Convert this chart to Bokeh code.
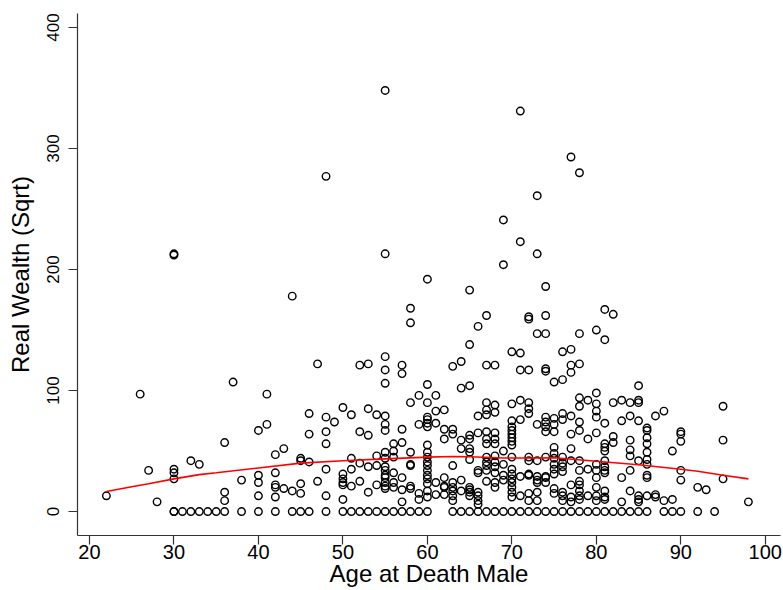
from bokeh.plotting import figure
from bokeh.models import ColumnDataSource, FixedTicker, Range1d
from bokeh.embed import file_html
from bokeh.resources import INLINE

# ---- data: values grouped by age at death ----
ages = [22, 26, 27, 28, 30, 31, 32, 33, 34, 35, 36, 37, 38, 40, 41, 42, 43, 44, 45, 46, 47, 48, 49,
        50, 51, 52, 53, 54, 55, 56, 57, 58, 59, 60, 61, 62, 63, 64, 65, 66, 67, 68, 69,
        70, 71, 72, 73, 74, 75, 76, 77, 78, 79, 80, 81, 82, 83, 84, 85, 86, 87, 88, 89,
        90, 92, 93, 94, 95, 98]

wealth_by_age = [
    [13],
    [97],
    [34],
    [8],
    [212, 213, 35, 32, 27, 0, 0],
    [0],
    [42, 0],
    [39, 0],
    [0],
    [0],
    [57, 16, 9, 0],
    [107],
    [26, 0],
    [67, 30, 24, 13, 0],
    [97, 72],
    [47, 32, 22, 20, 12, 0],
    [52, 19],
    [178, 17, 0],
    [44, 42, 23, 15, 0],
    [81, 64, 41, 0],
    [122, 25],
    [277, 78, 66, 56, 35, 13, 0],
    [74],
    [86, 31, 27, 24, 22, 10, 0],
    [80, 44, 35, 21, 0],
    [121, 66, 40, 25, 0],
    [122, 85, 63, 37, 16, 0],
    [80, 46, 38, 22, 0],
    [348, 213, 128, 117, 106, 79, 72, 67, 49, 44, 37, 34, 30, 28, 24, 21, 19, 0],
    [56, 50, 45, 32, 24, 20, 0],
    [121, 114, 68, 57, 28, 18, 8, 0],
    [168, 156, 90, 49, 39, 38, 21, 19, 0],
    [96, 72, 15, 10, 0],
    [192, 105, 90, 78, 76, 73, 70, 55, 49, 45, 41, 38, 34, 30, 27, 23, 17, 12, 0],
    [96, 83, 73, 24, 14],
    [84, 68, 60, 28, 21, 20, 14],
    [120, 68, 64, 38, 24, 20, 17, 13, 9, 0],
    [124, 102, 59, 52, 26, 17, 0],
    [183, 138, 104, 63, 60, 52, 49, 43, 20, 18, 16, 13, 0],
    [153, 79, 65, 34, 32, 16, 13, 9, 6, 0],
    [162, 121, 90, 84, 80, 66, 60, 56, 45, 41, 38, 34, 25, 0],
    [121, 88, 82, 65, 60, 56, 46, 41, 37, 32, 24, 20, 0],
    [241, 204, 50, 39, 30, 26, 0],
    [132, 89, 75, 70, 67, 64, 61, 58, 55, 45, 35, 31, 27, 24, 20, 16, 12, 0],
    [331, 223, 131, 117, 92, 76, 29, 13, 0],
    [161, 159, 117, 90, 85, 81, 45, 42, 31, 30, 15, 9, 0],
    [261, 213, 147, 72, 42, 29, 26, 24, 16, 9, 0],
    [186, 162, 147, 118, 116, 78, 74, 70, 66, 45, 29, 28, 24, 0],
    [107, 77, 72, 66, 53, 48, 44, 39, 35, 31, 19, 15, 0],
    [132, 109, 81, 76, 45, 40, 37, 33, 16, 13, 9, 0],
    [293, 134, 121, 115, 79, 64, 52, 42, 22, 12, 8, 0],
    [280, 147, 122, 94, 87, 74, 67, 42, 34, 25, 22, 17, 13, 10, 0],
    [92, 60, 35, 13, 0],
    [150, 98, 89, 83, 78, 65, 39, 34, 28, 20, 13, 9, 0],
    [167, 142, 73, 56, 53, 50, 42, 37, 34, 32, 17, 12, 10, 0],
    [163, 90, 62, 57, 0],
    [92, 75, 28, 8, 0],
    [90, 79, 59, 51, 46, 34, 17, 0],
    [104, 92, 90, 75, 42, 13, 10, 8, 0],
    [69, 67, 61, 56, 49, 43, 39, 30, 28, 13, 0],
    [79, 14, 12],
    [83, 9, 0],
    [50, 10, 0],
    [66, 64, 58, 34, 26, 0],
    [20, 0],
    [18],
    [0],
    [87, 59, 27],
    [8],
]

# smoothed (lowess) curve
smooth_age = [22, 25, 27, 30, 33, 35, 40, 45, 50, 55, 60, 63, 65, 69, 72, 75, 80, 85, 90, 92, 95, 98]
smooth_val = [16.5, 20.5, 23, 27, 30.5, 32, 36, 40, 42, 43.5, 45, 45.5, 45.3, 44.3, 44.2, 44.4, 41.5, 38.7, 35, 33.3, 30, 27]

x_ticks = [20, 30, 40, 50, 60, 70, 80, 90, 100]
y_ticks = [0, 100, 200, 300, 400]
x_label = "Age at Death Male"
y_label = "Real Wealth (Sqrt)"

# ---- build point table ----
xs, ys = [], []
for a, vals in zip(ages, wealth_by_age):
    for v in vals:
        xs.append(a)
        ys.append(v)
src = ColumnDataSource(dict(x=xs, y=ys))

FONT = "Liberation Sans"

p = figure(width=783, height=590, output_backend="svg", toolbar_location=None,
           x_range=Range1d(18.58, 101.8), y_range=Range1d(-19.8, 411.6),
           min_border_left=77, min_border_right=3, min_border_top=13, min_border_bottom=55)

p.scatter("x", "y", source=src, marker="circle", size=7.5, fill_color=None,
          line_color="black", line_width=1.4)
p.line(smooth_age, smooth_val, line_color="red", line_width=1.6)

p.outline_line_color = None
p.xgrid.visible = False
p.ygrid.visible = False
p.background_fill_color = "white"
p.border_fill_color = "white"

for ax in (p.xaxis[0], p.yaxis[0]):
    ax.axis_line_color = "#333333"
    ax.axis_line_width = 1.2
    ax.major_tick_line_color = "#333333"
    ax.major_tick_line_width = 1.2
    ax.major_tick_out = 9
    ax.major_tick_in = 0
    ax.minor_tick_line_color = None
    ax.major_label_text_font = FONT
    ax.major_label_text_color = "black"
    ax.axis_label_text_font = FONT
    ax.axis_label_text_font_style = "normal"
    ax.axis_label_text_color = "black"

p.xaxis.ticker = FixedTicker(ticks=x_ticks)
p.yaxis.ticker = FixedTicker(ticks=y_ticks)
p.xaxis.axis_label = x_label
p.yaxis.axis_label = y_label
p.xaxis.major_label_text_font_size = "20px"
p.yaxis.major_label_text_font_size = "17px"
p.xaxis.axis_label_text_font_size = "24px"
p.yaxis.axis_label_text_font_size = "24px"
p.yaxis.major_label_orientation = "vertical"
p.xaxis.major_label_standoff = 0
p.yaxis.major_label_standoff = 9
p.xaxis.axis_label_standoff = -2
p.yaxis.axis_label_standoff = 11

open("out.html", "w").write(file_html(p, INLINE))
